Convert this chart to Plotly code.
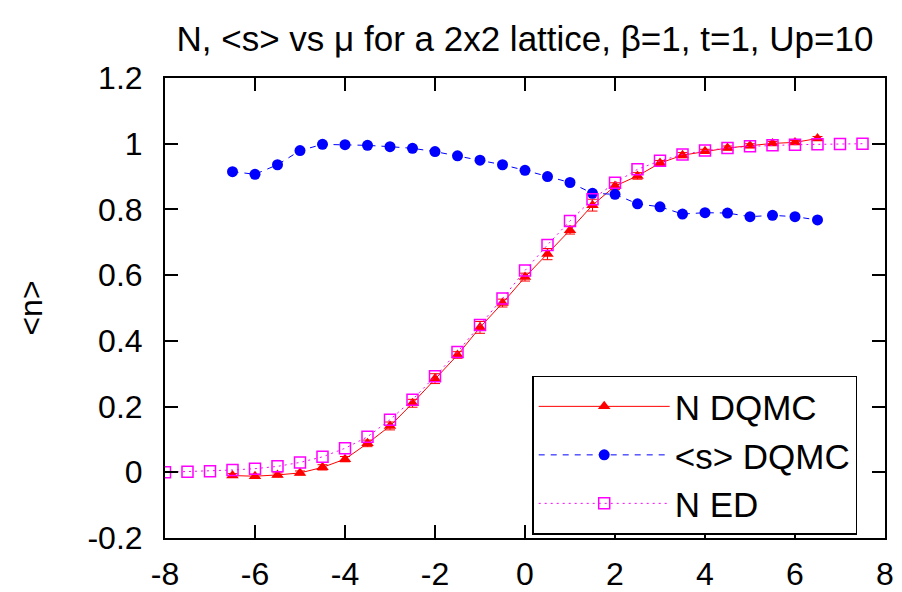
import plotly.graph_objects as go

# chemical potential grid for the DQMC runs
mu_dqmc = [-6.5, -6.0, -5.5, -5.0, -4.5, -4.0, -3.5, -3.0, -2.5, -2.0, -1.5, -1.0, -0.5,
           0.0, 0.5, 1.0, 1.5, 2.0, 2.5, 3.0, 3.5, 4.0, 4.5, 5.0, 5.5, 6.0, 6.5]
n_dqmc = [-0.010, -0.012, -0.008, -0.002, 0.015, 0.040, 0.088, 0.141, 0.210, 0.285, 0.357,
          0.441, 0.515, 0.594, 0.664, 0.737, 0.813, 0.871, 0.902, 0.941, 0.965, 0.977,
          0.987, 0.994, 1.001, 1.004, 1.016]
n_dqmc_err = [0.006, 0.006, 0.006, 0.006, 0.008, 0.008, 0.010, 0.012, 0.012, 0.015, 0.010,
              0.018, 0.012, 0.012, 0.017, 0.012, 0.018, 0.010, 0.010, 0.008, 0.008, 0.006,
              0.006, 0.006, 0.006, 0.006, 0.006]
sign_dqmc = [0.915, 0.907, 0.936, 0.979, 0.998, 0.997, 0.995, 0.991, 0.986, 0.976, 0.963,
             0.950, 0.936, 0.919, 0.900, 0.882, 0.849, 0.846, 0.817, 0.808, 0.786, 0.790,
             0.789, 0.778, 0.782, 0.778, 0.768]

# exact diagonalization
mu_ed = [-8.0, -7.5, -7.0, -6.5, -6.0, -5.5, -5.0, -4.5, -4.0, -3.5, -3.0, -2.5, -2.0, -1.5,
         -1.0, -0.5, 0.0, 0.5, 1.0, 1.5, 2.0, 2.5, 3.0, 3.5, 4.0, 4.5, 5.0, 5.5, 6.0, 6.5,
         7.0, 7.5]
n_ed = [0.000, 0.002, 0.003, 0.007, 0.011, 0.018, 0.030, 0.047, 0.073, 0.108, 0.160, 0.221,
        0.292, 0.366, 0.448, 0.529, 0.614, 0.692, 0.765, 0.831, 0.881, 0.922, 0.948, 0.967,
        0.979, 0.987, 0.992, 0.995, 0.997, 0.998, 0.999, 1.000]

x_ticks = [-8, -6, -4, -2, 0, 2, 4, 6, 8]
x_tick_text = ["-8", "-6", "-4", "-2", "0", "2", "4", "6", "8"]
y_ticks = [-0.2, 0.0, 0.2, 0.4, 0.6, 0.8, 1.0, 1.2]
y_tick_text = ["-0.2", "0", "0.2", "0.4", "0.6", "0.8", "1", "1.2"]

FONT = "Liberation Sans, Arial, Helvetica, sans-serif"

fig = go.Figure()

fig.add_trace(go.Scatter(
    x=mu_dqmc, y=n_dqmc, name="N DQMC", mode="lines+markers",
    line=dict(color="#ff0000", width=1),
    marker=dict(symbol="triangle-up", size=11, color="#ff0000"),
    error_y=dict(type="data", array=n_dqmc_err, visible=True,
                 color="#ff0000", thickness=1, width=5),
))
fig.add_trace(go.Scatter(
    x=mu_dqmc, y=sign_dqmc, name="&lt;s&gt; DQMC", mode="lines+markers",
    line=dict(color="#0000ff", width=1, dash="6px,6px"),
    marker=dict(symbol="circle", size=11, color="#0000ff"),
))
fig.add_trace(go.Scatter(
    x=mu_ed, y=n_ed, name="N ED", mode="lines+markers",
    line=dict(color="#ff00ff", width=1, dash="2px,4px"),
    marker=dict(symbol="square-open", size=11, color="#ff00ff", line=dict(width=1.5)),
))

axis_common = dict(
    showgrid=False, zeroline=False, showline=True, linecolor="black", linewidth=2,
    mirror="ticks", ticks="inside", ticklen=13, tickwidth=1.5, tickcolor="black",
    tickfont=dict(family=FONT, size=32, color="black"), automargin=False,
)

fig.update_xaxes(range=[-8, 8], tickmode="array", tickvals=x_ticks, ticktext=x_tick_text,
                 ticklabelstandoff=7, **axis_common)
fig.update_yaxes(range=[-0.2, 1.2], tickmode="array", tickvals=y_ticks, ticktext=y_tick_text,
                 ticklabelstandoff=14,
                 title=dict(text="&lt;n&gt;", font=dict(family=FONT, size=32, color="black"),
                            standoff=35),
                 **axis_common)

fig.update_layout(
    width=902, height=592,
    margin=dict(l=165, r=17, t=78, b=54),
    paper_bgcolor="white", plot_bgcolor="white",
    title=dict(text="N, &lt;s&gt; vs μ for a 2x2 lattice, β=1, t=1, Up=10",
               font=dict(family=FONT, size=35, color="black"),
               x=0.582, xanchor="center", y=0.935, yanchor="middle"),
    legend=dict(x=0.51, y=0.353, xanchor="left", yanchor="top",
                bgcolor="white", bordercolor="black", borderwidth=1.5,
                font=dict(family=FONT, size=35, color="black"),
                itemwidth=131, tracegroupgap=0),
    showlegend=True,
)

fig.write_html("out.html")
